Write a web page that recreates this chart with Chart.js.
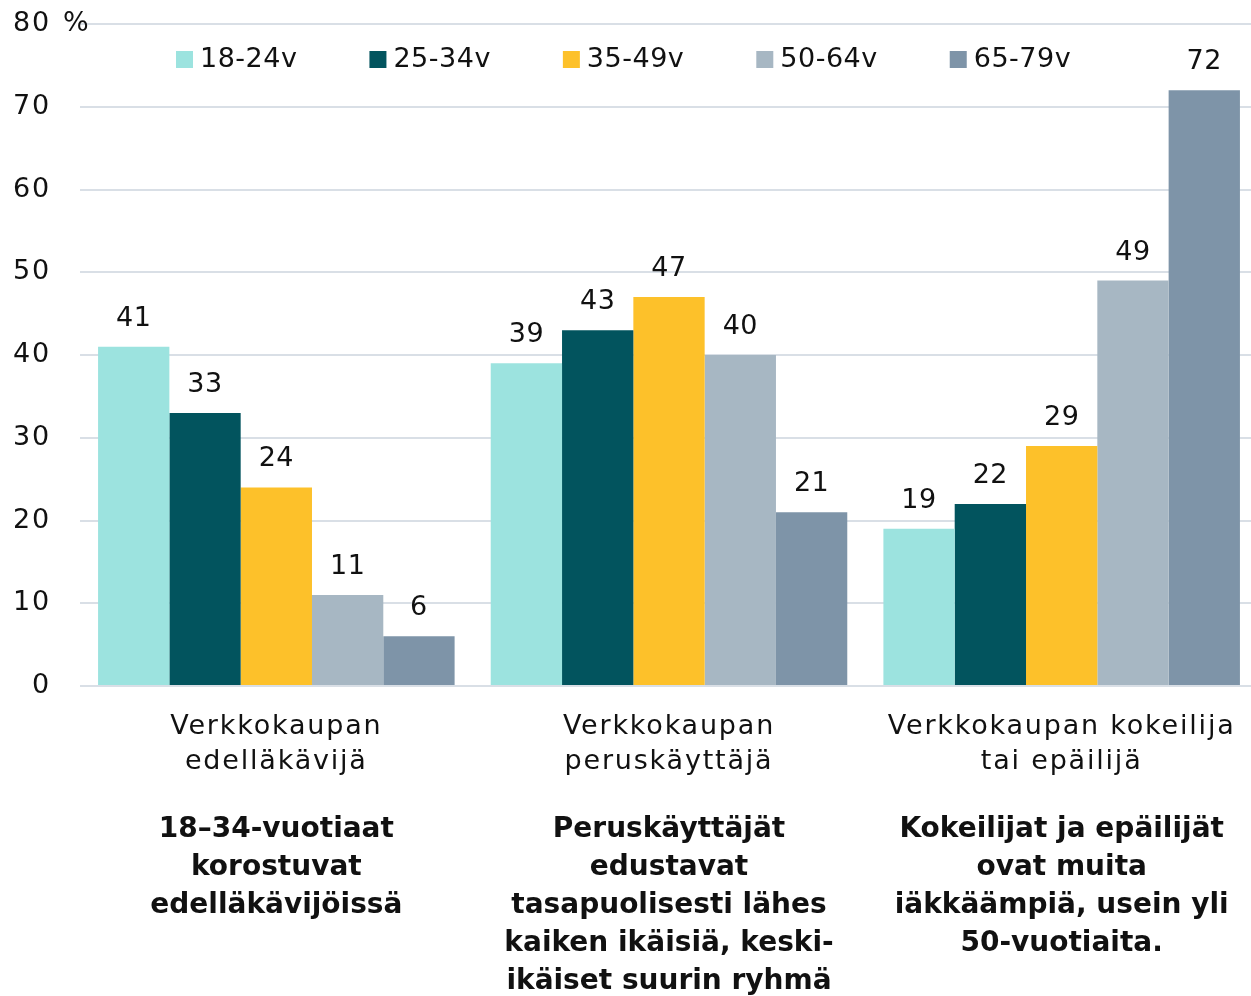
<!DOCTYPE html>
<html>
<head>
<meta charset="utf-8">
<script src="https://cdn.jsdelivr.net/npm/chart.js"></script>
<style>
body { margin:0; background:#fff; overflow:hidden }
</style>
</head>
<body>
<canvas id="chart" width="1258" height="996"></canvas>

<script>
// ===== DATA =====
const categories = [
  ["Verkkokaupan", "edelläkävijä"],
  ["Verkkokaupan", "peruskäyttäjä"],
  ["Verkkokaupan kokeilija", "tai epäilijä"]
];
const seriesNames = ["18-24v", "25-34v", "35-49v", "50-64v", "65-79v"];
const v1824 = [41, 39, 19];
const v2534 = [33, 43, 22];
const v3549 = [24, 47, 29];
const v5064 = [11, 40, 49];
const v6579 = [6, 21, 72];
const yTicks = [0, 10, 20, 30, 40, 50, 60, 70, 80];
const captions = [
  ["18–34-vuotiaat", "korostuvat", "edelläkävijöissä"],
  ["Peruskäyttäjät", "edustavat", "tasapuolisesti lähes", "kaiken ikäisiä, keski-", "ikäiset suurin ryhmä"],
  ["Kokeilijat ja epäilijät", "ovat muita", "iäkkäämpiä, usein yli", "50-vuotiaita."]
];

const colors = ["#9ce3df", "#02545e", "#fdc12a", "#a7b7c3", "#7e94a8"];
const FONT = "'DejaVu Sans'";
const values = [v1824, v2534, v3549, v5064, v6579];

// wider letter spacing for axis text (looks closer to the original font)
const spacing = {
  id: "spacing",
  beforeDraw(chart) { chart.ctx.letterSpacing = "1.8px"; },
  beforeDatasetsDraw(chart) { chart.ctx.letterSpacing = "0px"; }
};

// value labels above bars
const valueLabels = {
  id: "valueLabels",
  afterDatasetsDraw(chart) {
    const ctx = chart.ctx;
    ctx.save();
    ctx.letterSpacing = "0.5px";
    ctx.font = "27px " + FONT;
    ctx.fillStyle = "#111";
    ctx.textAlign = "center";
    ctx.textBaseline = "middle";
    chart.data.datasets.forEach((ds, i) => {
      chart.getDatasetMeta(i).data.forEach((bar, j) => {
        ctx.fillText(ds.data[j], bar.x, bar.y - 28);
      });
    });
    ctx.restore();
  }
};

// legend drawn inside the plot
const insideLegend = {
  id: "insideLegend",
  afterDraw(chart) {
    const ctx = chart.ctx;
    ctx.save();
    ctx.letterSpacing = "0.5px";
    ctx.font = "27px " + FONT;
    ctx.textBaseline = "middle";
    let x = 176;
    const y = 60;
    chart.data.datasets.forEach(ds => {
      ctx.fillStyle = ds.backgroundColor;
      ctx.fillRect(x, y - 9, 17, 17);
      ctx.fillStyle = "#111";
      ctx.fillText(ds.label, x + 24, y);
      x += 24 + ctx.measureText(ds.label).width + 72;
    });
    ctx.restore();
  }
};

// bold captions under category labels + "%" on top tick
const captionText = {
  id: "captionText",
  afterDraw(chart) {
    const ctx = chart.ctx;
    const xs = chart.scales.x;
    const ys = chart.scales.y;
    ctx.save();
    ctx.letterSpacing = "0px";
    ctx.fillStyle = "#111";
    ctx.textAlign = "center";
    ctx.textBaseline = "middle";
    ctx.font = "bold 28px " + FONT;
    captions.forEach((lines, i) => {
      const cx = xs.getPixelForValue(i);
      lines.forEach((t, k) => ctx.fillText(t, cx, 830 + k * 38));
    });
    ctx.font = "27px " + FONT;
    ctx.textAlign = "left";
    ctx.fillText("%", 63, ys.getPixelForValue(80));
    ctx.restore();
  }
};

new Chart(document.getElementById("chart"), {
  type: "bar",
  data: {
    labels: categories,
    datasets: seriesNames.map((n, i) => ({
      label: n,
      data: values[i],
      backgroundColor: colors[i],
      borderWidth: 0,
      categoryPercentage: 0.908,
      barPercentage: 1
    }))
  },
  options: {
    responsive: false,
    animation: false,
    layout: { padding: { top: 24, right: 0, left: 0, bottom: 0 } },
    plugins: { legend: { display: false }, tooltip: { enabled: false } },
    scales: {
      x: {
        grid: { display: false },
        border: { display: false },
        ticks: { color: "#111", font: { family: "DejaVu Sans", size: 27, lineHeight: 1.3 }, padding: 15, maxRotation: 0, autoSkip: false },
        afterFit(s) { s.height = 310; }
      },
      y: {
        min: 0,
        max: 80,
        afterBuildTicks(s) { s.ticks = yTicks.map(v => ({ value: v })); },
        grid: { color: "#d9dfe6", lineWidth: 2, drawTicks: false },
        border: { display: false },
        ticks: { color: "#111", font: { family: "DejaVu Sans", size: 27 }, padding: 29 },
        afterFit(s) { s.width = 80; s.paddingTop = 0; s.paddingBottom = 0; }
      }
    }
  },
  plugins: [spacing, valueLabels, insideLegend, captionText]
});
</script>
</body>
</html>
